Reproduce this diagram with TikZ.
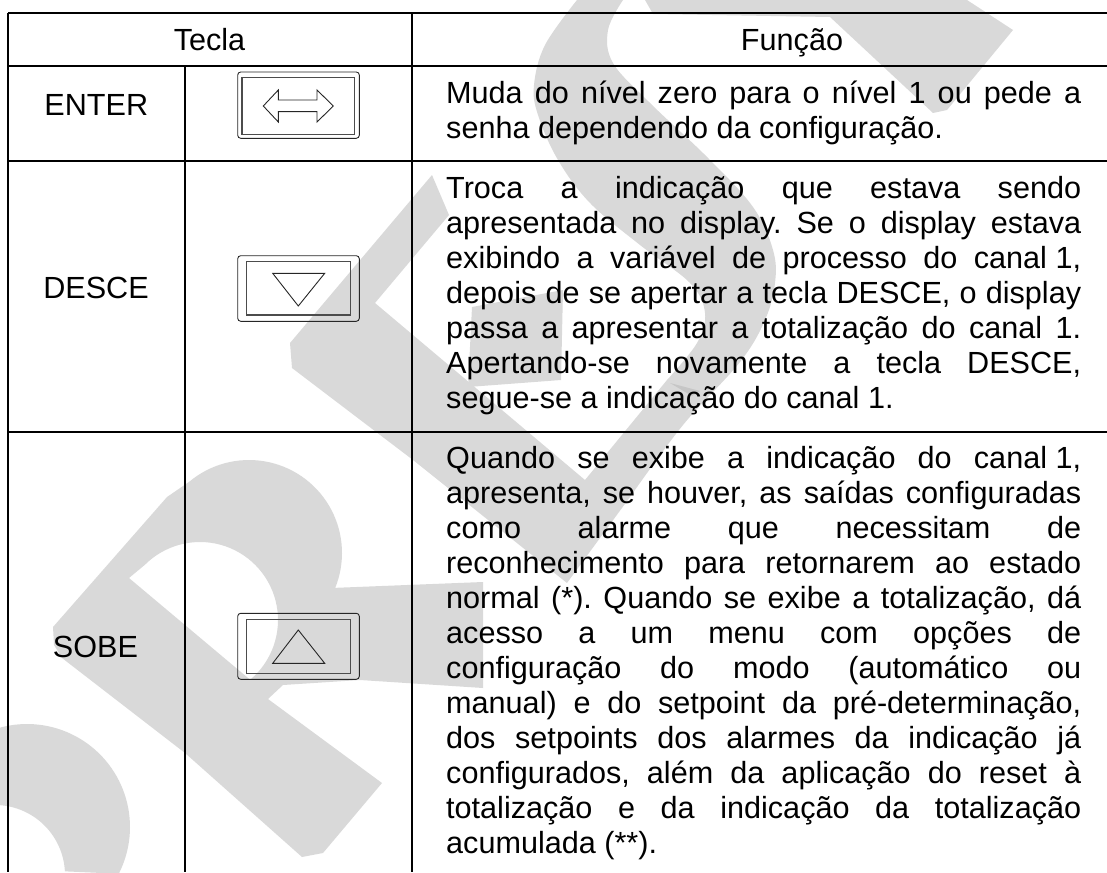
\documentclass[tikz,border=0pt]{standalone}
\usepackage{fontspec}
\setmainfont{Liberation Sans}
\newdimen\colw \colw=635pt
\newcommand{\jl}[1]{\hbox to\colw{#1}}
\newcommand{\nl}[1]{\hbox{#1}}
\newcommand{\fs}{\kern.278em\relax}
\newcommand{\cell}[1]{\vtop{\baselineskip=35.05pt\lineskiplimit=-100pt\relax #1}}
\definecolor{wm}{HTML}{D9D9D9}
\definecolor{wmd}{HTML}{C6C6C6}
\tikzset{
  rule/.style={draw=black,line width=1.9pt},
  keyo/.style={draw=black!85,line width=.9pt,rounded corners=3pt},
  keyi/.style={draw=black!70,line width=1.3pt},
  glyph/.style={draw=black!85,line width=.9pt,line join=miter},
  lab/.style={font=\fontsize{30.6}{35}\selectfont,inner sep=0pt,anchor=base},
  txt/.style={font=\fontsize{30.6}{35}\selectfont\frenchspacing,inner sep=0pt,anchor=base west}
}
\begin{document}
\begin{tikzpicture}[x=1pt,y=-1pt]
\useasboundingbox (0,0) rectangle (1107,872);
\begin{scope}
\clip (0,0) rectangle (1107,872);
% watermark: S with chevron
\fill[wm] (432,175) -- (449,215) -- (375,303) -- (585,480) -- (667,380)
  -- plot[smooth,tension=.6] coordinates {(667,380) (697,343) (705,313) (690,283) (640,245) (590,203) (558,160) (538,115) (534,85) (545,45) (577,0)}
  -- (967,0) -- (1013,30) -- (947,110) -- (933,113) -- (830,17) -- (653,14) -- (645,0) -- (623,0)
  -- plot[smooth,tension=.6] coordinates {(623,0) (608,30) (613,63) (650,103) (707,157) (753,207) (773,250) (775,283) (765,320) (740,362) (683,425) (630,497)}
  -- (567,583) -- (413,460) -- (292,368) -- (290,343) -- cycle;
% watermark: patch
\fill[wm] (472,307) -- (563,290) -- (561,380) -- (468,387) -- cycle;
% watermark: R
\fill[wm,even odd rule] (53,627) -- (167,497)
  -- plot[domain=-130:22,samples=50] ({249+93*cos(\x)},{553+93*sin(\x)})
  -- (483,582) -- (483,688) -- (360,680) -- (283,685) -- (268,699) -- (382,783) -- (323,853) -- (302,857) -- (185,753) -- (62,658) -- (54,645) -- cycle
  (129,578) -- plot[domain=-135:50,samples=50] ({200+78*cos(\x)},{620+78*sin(\x)}) -- cycle;
% watermark: arc lower left
\fill[wm] plot[domain=-105:27,samples=50] ({27+103*cos(\x)},{827+103*sin(\x)})
  -- plot[domain=87:-5,samples=40] ({-5+70*sin(\x)},{875-70*cos(\x)}) -- cycle;
\fill[wmd] (670,383) -- (700,391) -- (692,396) -- cycle;
\end{scope}
% table rules
\coordinate (tl) at (8,13);
\coordinate (tr) at (1107,13);
\coordinate (bl) at (8,872);
\draw[rule] (tl) -- (tr);
\draw[rule] (8,66) -- (1107,66);
\draw[rule] (8,161) -- (1107,161);
\draw[rule] (8,432) -- (1107,432);
\draw[rule] (tl) -- (bl);
\draw[rule] (185,66) -- (185,872);
\draw[rule] (412.3,13) -- (412.3,872);
% headers
\node[lab] (hT) at (209.5,50.7) {Tecla};
\node[lab] (hF) at (792,50.7) {Função};
% key names
\node[lab] (kE) at (96.3,115.7) {ENTER};
\node[lab] (kD) at (96,298.3) {DESCE};
\node[lab] (kS) at (95.5,657.3) {SOBE};
% ENTER key
\draw[keyo] (237.7,72) rectangle (359.3,138.3);
\draw[keyi] (242,77.3) rectangle (354.3,134.3);
\draw[glyph] (263.3,106) -- (278.3,90) -- (278.3,100) -- (317,100) -- (317,90) -- (333.3,106) -- (317,122) -- (317,111.7) -- (278.3,111.7) -- (278.3,122) -- cycle;
% DESCE key
\draw[keyo] (237.7,255.7) rectangle (359.3,321.3);
\draw[keyi] (246.7,261.7) rectangle (350.7,315);
\draw[glyph] (272.7,273.3) -- (324.7,273.3) -- (298.3,306) -- cycle;
% SOBE key
\draw[keyo] (237.7,613.3) rectangle (359.3,679.3);
\draw[keyi] (246.7,619.3) rectangle (350.7,673.3);
\draw[glyph] (272.7,663.3) -- (324.7,663.3) -- (298.3,630) -- cycle;
% function texts
\node[txt] (fE) at (446,103.3) {\cell{%
\jl{Muda do nível zero para o nível 1 ou pede a}
\nl{senha dependendo da configuração.}}};
\node[txt] (fD) at (446,198.3) {\cell{%
\jl{Troca a indicação que estava sendo}
\jl{apresentada no display. Se o display estava}
\jl{exibindo a variável de processo do canal\fs 1,}
\jl{depois de se apertar a tecla DESCE, o display}
\jl{passa a apresentar a totalização do canal 1.}
\jl{Apertando-se novamente a tecla DESCE,}
\nl{segue-se a indicação do canal 1.}}};
\node[txt] (fS) at (446,468.3) {\cell{%
\jl{Quando se exibe a indicação do canal\fs 1,}
\jl{apresenta, se houver, as saídas configuradas}
\jl{como alarme que necessitam de}
\jl{reconhecimento para retornarem ao estado}
\jl{normal (*). Quando se exibe a totalização, dá}
\jl{acesso a um menu com opções de}
\jl{configuração do modo (automático ou}
\jl{manual) e do setpoint da pré-determinação,}
\jl{dos setpoints dos alarmes da indicação já}
\jl{configurados, além da aplicação do reset à}
\jl{totalização e da indicação da totalização}
\nl{acumulada (**).}}};
\end{tikzpicture}
\end{document}
